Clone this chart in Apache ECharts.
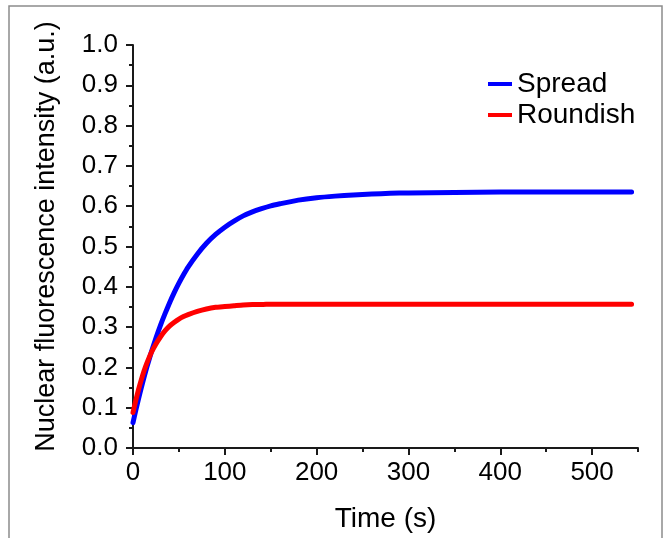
<!DOCTYPE html>
<html><head><meta charset="utf-8">
<script src="https://cdn.jsdelivr.net/npm/echarts@6/dist/echarts.min.js"></script>
<style>html,body{margin:0;padding:0;background:#fff}#c{width:665px;height:538px}</style>
</head><body><div id="c"></div>
<script>
// Time points (s)
const times = [0,3,6,9,12,15,20,25,30,35,40,45,50,55,60,70,80,90,100,110,120,130,140,150,160,180,200,220,240,260,280,300,350,400,450,500,543];
// Spread (blue)
const spread = [0.063,0.093,0.122,0.149,0.175,0.200,0.238,0.273,0.305,0.334,0.361,0.386,0.409,0.430,0.449,0.481,0.508,0.530,0.548,0.563,0.576,0.586,0.594,0.601,0.606,0.615,0.621,0.625,0.628,0.630,0.632,0.633,0.634,0.635,0.635,0.635,0.635];
// Roundish (red)
const roundish = [0.088,0.118,0.145,0.169,0.191,0.210,0.237,0.258,0.276,0.291,0.303,0.312,0.320,0.326,0.331,0.339,0.345,0.349,0.351,0.353,0.355,0.356,0.356,0.357,0.357,0.357,0.357,0.357,0.357,0.357,0.357,0.357,0.357,0.357,0.357,0.357,0.357];
const seriesNames = ['Spread','Roundish'];
const xMajorTicks = [0,100,200,300,400,500];
const xMinorTicks = [50,150,250,350,450,550];
const xTitle = 'Time (s)';
const yTitle = 'Nuclear fluorescence intensity (a.u.)';

const FONT = 'Liberation Sans, Arial, sans-serif';
const AX = '#1a1a1a';
const chart = echarts.init(document.getElementById('c'), null, {renderer:'canvas'});
const toPairs = (ys) => times.map((t,i)=>[t, ys[i]]);

chart.setOption({
  animation: false,
  backgroundColor: '#fff',
  graphic: [{
    type: 'rect', silent: true, z: -10,
    shape: {x: 9, y: 6, width: 653, height: 600},
    style: {fill: 'none', stroke: '#8c8c8c', lineWidth: 1.5}
  }],
  grid: {left: 133, top: 45, width: 505, height: 408, containLabel: false},
  legend: {
    orient: 'vertical', left: 488, top: 70, padding: 0,
    itemWidth: 24, itemHeight: 4, itemGap: 3, icon: 'rect',
    textStyle: {fontSize: 28, color: '#000', fontFamily: FONT},
    data: seriesNames
  },
  xAxis: [{
    type: 'value', min: 0, max: 550, position: 'bottom',
    axisLine: {show: true, lineStyle: {color: AX, width: 2}},
    axisTick: {show: true, length: 7, lineStyle: {color: AX, width: 2}, customValues: xMajorTicks},
    axisLabel: {show: true, customValues: xMajorTicks, fontSize: 26, color: '#000', fontFamily: FONT, margin: 12},
    splitLine: {show: false},
    name: xTitle, nameLocation: 'middle', nameGap: 57,
    nameTextStyle: {fontSize: 28, color: '#000', fontFamily: FONT}
  }, {
    type: 'value', min: 0, max: 550, position: 'bottom', gridIndex: 0,
    axisLine: {show: false},
    axisTick: {show: true, length: 4, lineStyle: {color: AX, width: 2}, customValues: xMinorTicks},
    axisLabel: {show: false},
    splitLine: {show: false}
  }],
  yAxis: {
    type: 'value', min: 0, max: 1, interval: 0.1,
    axisLine: {show: true, lineStyle: {color: AX, width: 2}},
    axisTick: {show: true, length: 7, lineStyle: {color: AX, width: 2}},
    minorTick: {show: true, splitNumber: 2, length: 4, lineStyle: {color: AX, width: 2}},
    axisLabel: {fontSize: 26, color: '#000', fontFamily: FONT, margin: 15, formatter: v => v.toFixed(1)},
    splitLine: {show: false},
    name: yTitle, nameLocation: 'middle', nameGap: 73,
    nameTextStyle: {fontSize: 27, color: '#000', fontFamily: FONT, padding: [0, 0, 0, 20]}
  },
  series: [{
    name: seriesNames[0], type: 'line', data: toPairs(spread),
    showSymbol: false, symbol: 'none', smooth: 0.2,
    color: '#0000ff', lineStyle: {width: 5, color: '#0000ff', cap: 'round', join: 'round'}
  }, {
    name: seriesNames[1], type: 'line', data: toPairs(roundish),
    showSymbol: false, symbol: 'none', smooth: 0.2,
    color: '#ff0000', lineStyle: {width: 5, color: '#ff0000', cap: 'round', join: 'round'}
  }]
});
</script></body></html>
